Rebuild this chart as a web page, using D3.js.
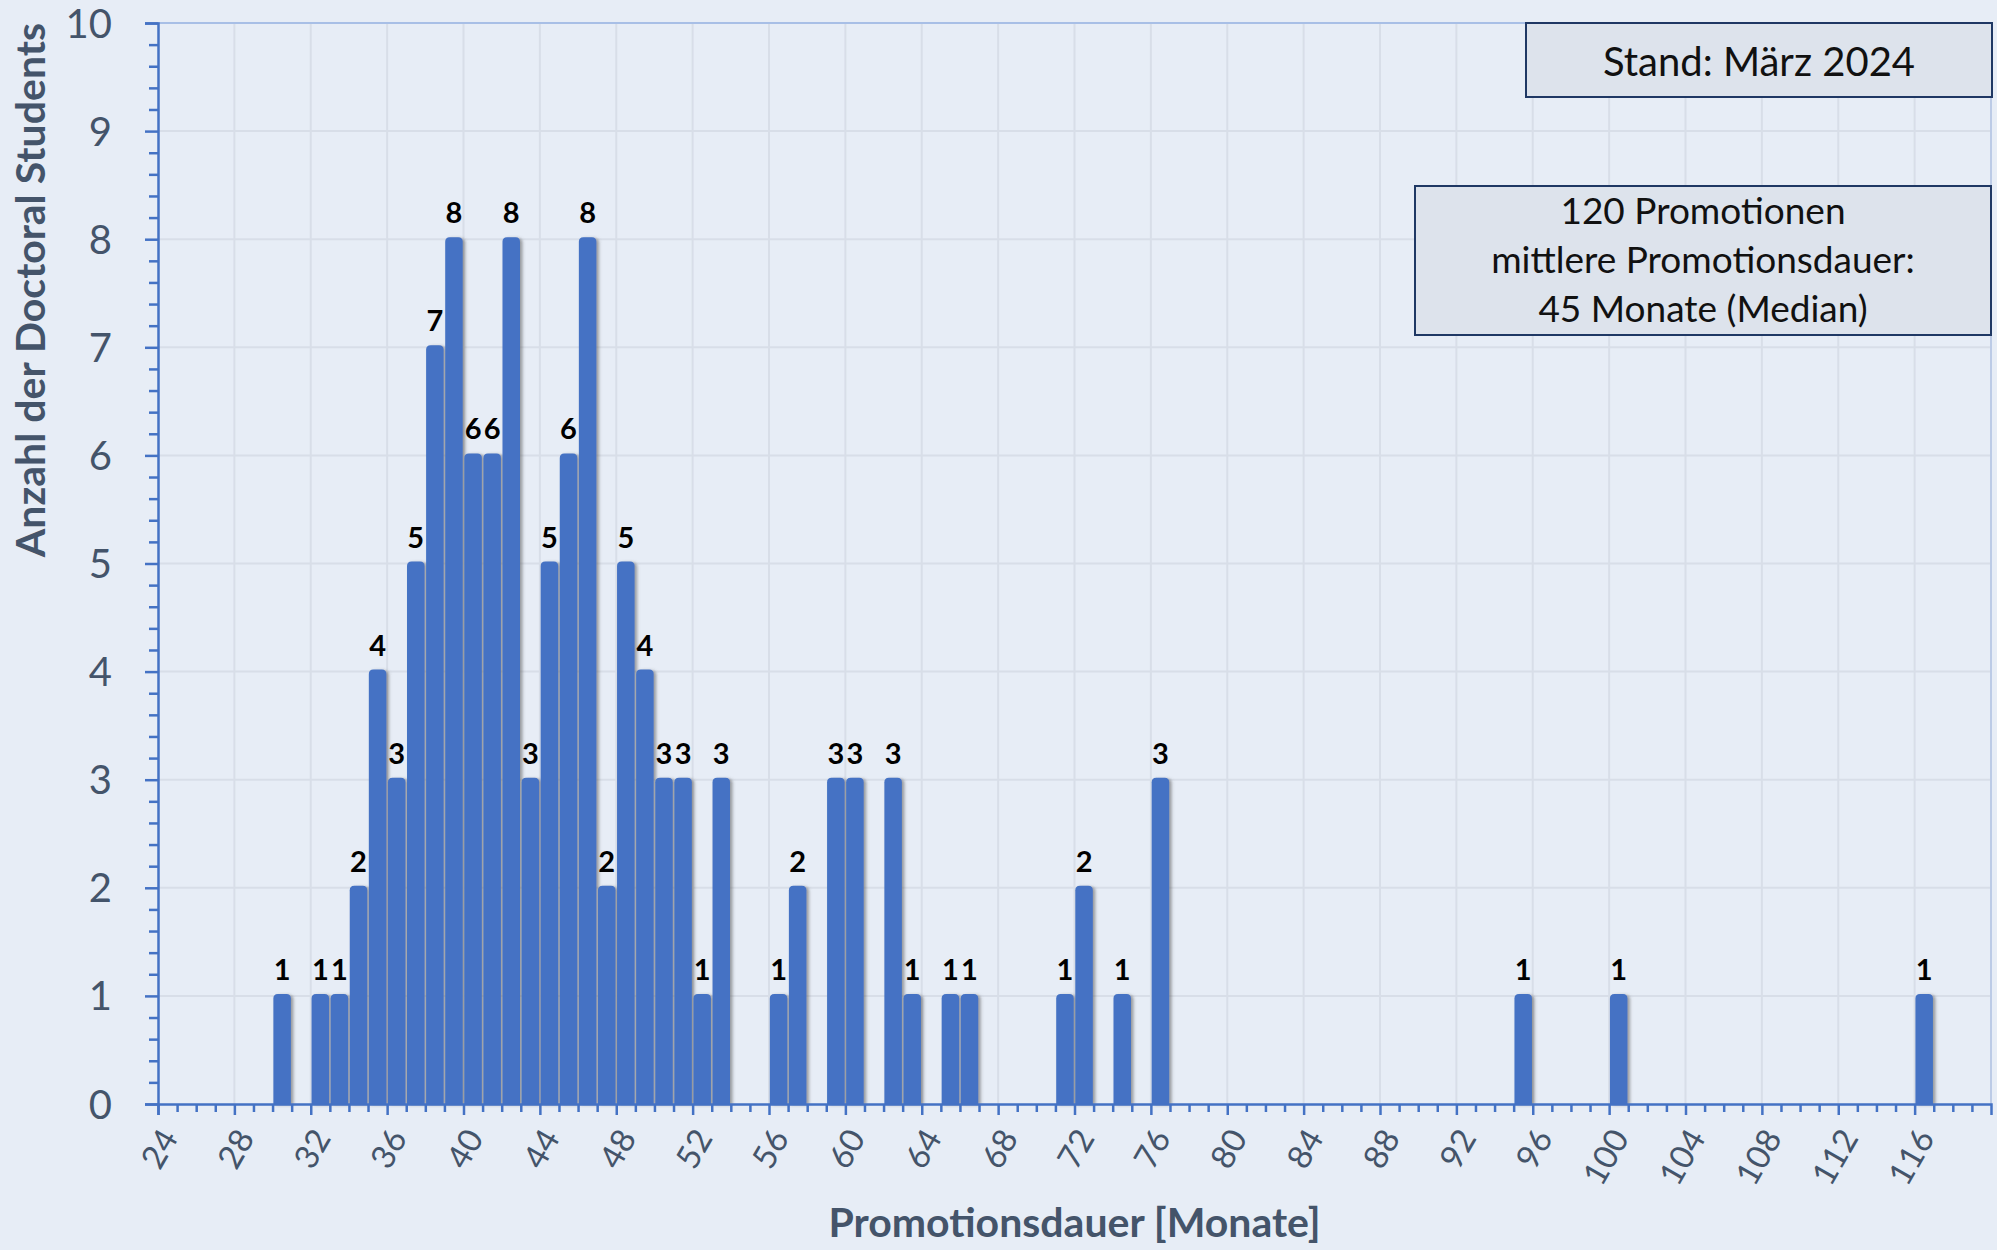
<!DOCTYPE html>
<html><head><meta charset="utf-8">
<script src="https://cdn.jsdelivr.net/npm/d3@7"></script>
<style>
html,body{margin:0;padding:0;background:#e7edf6;}
svg{display:block;}
</style></head>
<body>
<svg id="chart" width="1997" height="1250"></svg>
<script>
// ---- data ----
const months = [30,32,33,34,35,36,37,38,39,40,41,42,43,44,45,46,47,48,49,50,51,52,53,56,57,59,60,62,63,65,66,71,72,74,76,95,100,116];
const counts = [1,1,1,2,4,3,5,7,8,6,6,8,3,5,6,8,2,5,4,3,3,1,3,1,2,3,3,3,1,1,1,1,2,1,3,1,1,1];
const xTickLabels = [24,28,32,36,40,44,48,52,56,60,64,68,72,76,80,84,88,92,96,100,104,108,112,116];
const yTickLabels = [0,1,2,3,4,5,6,7,8,9,10];
const xTitle = "Promotionsdauer [Monate]";
const yTitle = "Anzahl der Doctoral Students";
const boxStand = ["Stand: März 2024"];
const boxInfo = ["120 Promotionen","mittlere Promotionsdauer:","45 Monate (Median)"];

// ---- layout ----
const svg = d3.select("#chart");
const L = 158, R = 1991, T = 23, B = 1104;
const x = d3.scaleLinear().domain([24,120]).range([L,R]);
const y = d3.scaleLinear().domain([0,10]).range([B,T]);
const axisColor = "#4472c4", textColor = "#44546a", gridColor = "#d8dee8";
const font = "Lato, 'Open Sans', sans-serif";

const defs = svg.append("defs");
const f = defs.append("filter").attr("id","sh").attr("x","-30%").attr("y","-10%").attr("width","180%").attr("height","120%");
f.append("feDropShadow").attr("dx",2.5).attr("dy",1).attr("stdDeviation",1.6).attr("flood-color","#555").attr("flood-opacity",0.55);

svg.append("rect").attr("width",1997).attr("height",1250).attr("fill","#e7edf6");

// grid
const g = svg.append("g");
g.selectAll("line.hg").data(yTickLabels.filter(v=>v>0 && v<10)).join("line")
  .attr("x1",L).attr("x2",R).attr("y1",d=>y(d)).attr("y2",d=>y(d))
  .attr("stroke",gridColor).attr("stroke-width",2);
g.selectAll("line.vg").data(xTickLabels.filter(v=>v>24)).join("line")
  .attr("x1",d=>x(d)).attr("x2",d=>x(d)).attr("y1",T).attr("y2",B)
  .attr("stroke",gridColor).attr("stroke-width",2);
// top/right border
g.append("line").attr("x1",L).attr("x2",R).attr("y1",T).attr("y2",T).attr("stroke","#a8bfe6").attr("stroke-width",2);
g.append("line").attr("x1",R).attr("x2",R).attr("y1",T).attr("y2",B).attr("stroke","#bccbe6").attr("stroke-width",2);

// bars
const bw = 17.5, r = 4.5;
const data = months.map((m,i)=>({m, v:counts[i]}));
function barPath(d){
  const cx = x(d.m + 0.5), x0 = cx - bw/2, x1 = cx + bw/2, y0 = y(d.v) - 2, yb = y(0);
  return `M${x0},${yb}L${x0},${y0+r}Q${x0},${y0} ${x0+r},${y0}L${x1-r},${y0}Q${x1},${y0} ${x1},${y0+r}L${x1},${yb}Z`;
}
svg.append("g").selectAll("path").data(data).join("path")
  .attr("d",barPath).attr("fill","#4472c4").attr("filter","url(#sh)");

// data labels
svg.append("g").selectAll("text").data(data).join("text")
  .attr("x",d=>x(d.m+0.5)).attr("y",d=>y(d.v)-16)
  .attr("text-anchor","middle").attr("font-family",font).attr("font-weight","bold")
  .attr("font-size",29).attr("fill","#000").text(d=>d.v);

// y axis
const yAxis = d3.axisLeft(y).tickValues(yTickLabels).tickSize(13).tickPadding(33).tickFormat(d3.format("d"));
const ya = svg.append("g").attr("transform",`translate(${L},0)`).call(yAxis);
ya.select(".domain").attr("stroke",axisColor).attr("stroke-width",2.5);
ya.selectAll(".tick line").attr("stroke",axisColor).attr("stroke-width",2.5);
ya.selectAll(".tick text").attr("font-family",font).attr("font-weight",400).attr("font-size",40).attr("fill",textColor).attr("dy","0.35em");
const yMinor = d3.axisLeft(y).tickValues(d3.range(0,50).map(i=>i/5).filter(v=>Math.abs(v-Math.round(v))>1e-6)).tickSize(9).tickFormat("");
const ym = svg.append("g").attr("transform",`translate(${L},0)`).call(yMinor);
ym.select(".domain").remove();
ym.selectAll(".tick line").attr("stroke",axisColor).attr("stroke-width",2.5);

// x axis
const xAxis = d3.axisBottom(x).tickValues(xTickLabels).tickSize(11).tickFormat("");
const xa = svg.append("g").attr("transform",`translate(0,${B})`).call(xAxis);
xa.select(".domain").attr("stroke",axisColor).attr("stroke-width",2.5);
xa.selectAll(".tick line").attr("stroke",axisColor).attr("stroke-width",2.5);
const xMinor = d3.axisBottom(x).tickValues(d3.range(25,121).filter(v=>(v-24)%4!==0)).tickSize(8).tickFormat("");
const xm = svg.append("g").attr("transform",`translate(0,${B})`).call(xMinor);
xm.select(".domain").remove();
xm.selectAll(".tick line").attr("stroke",axisColor).attr("stroke-width",2.5);
svg.append("g").selectAll("text").data(xTickLabels).join("text")
  .attr("transform",d=>`translate(${x(d)+21},${B+34}) rotate(-60)`)
  .attr("text-anchor","end").attr("font-family",font).attr("font-weight",400)
  .attr("font-size",33).attr("fill",textColor).text(d=>d);

// axis titles
svg.append("text").attr("x",x(72)).attr("y",1237).attr("text-anchor","middle")
  .attr("font-family",font).attr("font-weight","bold").attr("font-size",41).attr("fill",textColor).text(xTitle);
svg.append("text").attr("transform",`translate(45,${T}) rotate(-90)`).attr("text-anchor","end")
  .attr("font-family",font).attr("font-weight","bold").attr("font-size",41).attr("fill",textColor).text(yTitle);

// boxes
function box(x0,y0,w,h,lines,fs,lh,firstY){
  svg.append("rect").attr("x",x0).attr("y",y0).attr("width",w).attr("height",h)
    .attr("fill","#dde3ec").attr("stroke","#1f3864").attr("stroke-width",2);
  svg.append("g").selectAll("text").data(lines).join("text")
    .attr("x",x0+w/2).attr("y",(d,i)=>firstY+i*lh).attr("text-anchor","middle")
    .attr("font-family",font).attr("font-size",fs).attr("fill","#111").text(d=>d);
}
box(1526,23,466,74,boxStand,40,0,76);
box(1415,186,576,149,boxInfo,37,49,224);
</script>
</body></html>
